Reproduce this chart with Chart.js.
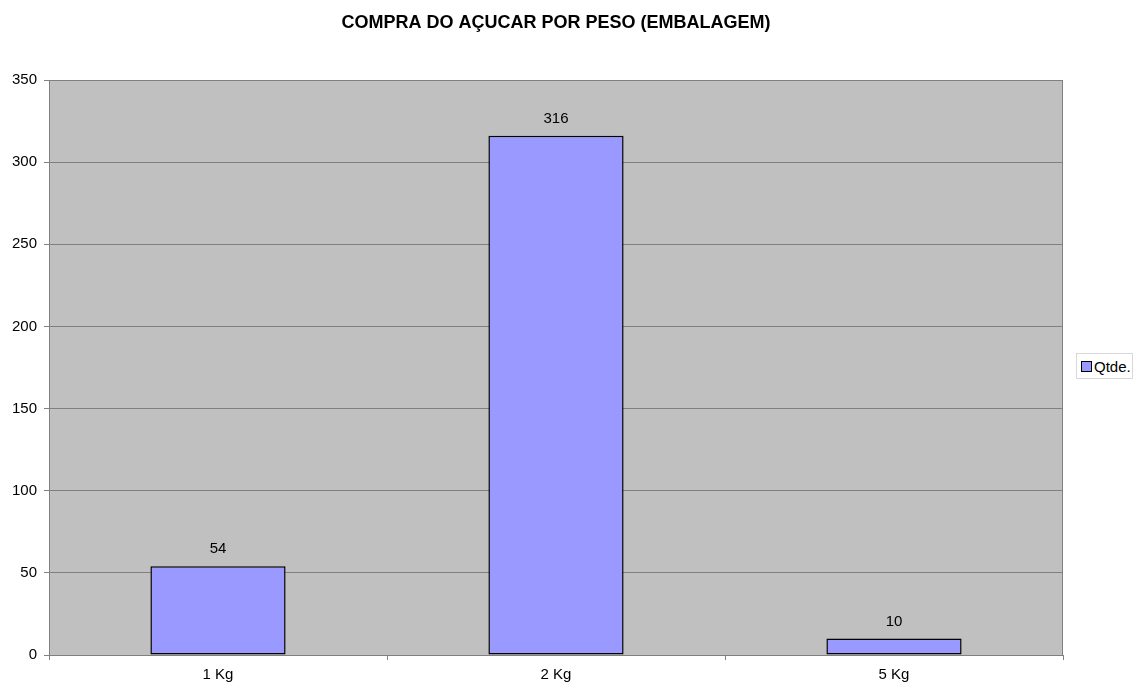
<!DOCTYPE html>
<html>
<head>
<meta charset="utf-8">
<script src="https://cdn.jsdelivr.net/npm/chart.js@4/dist/chart.umd.min.js"></script>
<style>
  html, body { margin: 0; padding: 0; background: #fff; }
  #wrap { position: relative; width: 1142px; height: 689px; }
  #legend {
    position: absolute; left: 1076px; top: 353px; width: 57px; height: 26px;
    border: 1px solid #d8d8d8; background: #fff; box-sizing: border-box;
    font: 15px "Liberation Sans", Arial, sans-serif; color: #000;
    display: flex; align-items: center; padding-left: 4px;
  }
  #legend .sw {
    flex: 0 0 auto; width: 11px; height: 11px; box-sizing: border-box;
    background: #9999FF; border: 1.5px solid #000; margin-right: 2px;
  }
</style>
</head>
<body>
<div id="wrap">
  <canvas id="chart" width="1142" height="689"></canvas>
  <div id="legend"><span class="sw"></span><span>Qtde.</span></div>
</div>
<script>
const categories = ["1 Kg", "2 Kg", "5 Kg"];
const qtde = [54, 316, 10];
const seriesName = "Qtde.";
const chartTitle = "COMPRA DO AÇUCAR POR PESO (EMBALAGEM)";

const FONT = '"Liberation Sans", Arial, sans-serif';

const plotBackground = {
  id: "plotBackground",
  beforeDraw(chart) {
    const { ctx, chartArea: a } = chart;
    ctx.save();
    ctx.fillStyle = "#C0C0C0";
    ctx.fillRect(a.left, a.top, a.right - a.left, a.bottom - a.top);
    ctx.restore();
  },
  afterDatasetsDraw(chart) {
    const { ctx, chartArea: a } = chart;
    ctx.save();
    ctx.strokeStyle = "#808080";
    ctx.lineWidth = 1;
    ctx.strokeRect(a.left + 0.5, a.top + 0.5, a.right - a.left - 1, a.bottom - a.top);
    ctx.restore();
  },
};

// title drawn by hand so it can sit where the original has it (centre x ~556)
const titleText = {
  id: "titleText",
  afterDraw(chart) {
    const { ctx } = chart;
    ctx.save();
    ctx.fillStyle = "#000";
    ctx.font = "bold 18px " + FONT;
    ctx.textAlign = "center";
    ctx.textBaseline = "middle";
    ctx.fillText(chartTitle, 556, 23);
    ctx.restore();
  },
};

const valueLabels = {
  id: "valueLabels",
  afterDatasetsDraw(chart) {
    const { ctx } = chart;
    const meta = chart.getDatasetMeta(0);
    ctx.save();
    ctx.fillStyle = "#000";
    ctx.font = "15px " + FONT;
    ctx.textAlign = "center";
    ctx.textBaseline = "middle";
    meta.data.forEach((bar, i) => {
      ctx.fillText(String(qtde[i]), bar.x, bar.y - 17);
    });
    ctx.restore();
  },
};

new Chart(document.getElementById("chart"), {
  type: "bar",
  data: {
    labels: categories,
    datasets: [{
      label: seriesName,
      data: qtde,
      backgroundColor: "#9999FF",
      borderColor: "#000000",
      borderWidth: 1.5,
      borderSkipped: false,
      barPercentage: 0.4,
      categoryPercentage: 1,
    }],
  },
  options: {
    responsive: false,
    animation: false,
    layout: { padding: { top: 80, right: 79, bottom: 0, left: 0 } },
    plugins: {
      legend: { display: false },
      tooltip: { enabled: false },
      title: { display: false },
    },
    scales: {
      x: {
        afterFit(s) { s.height = 34; },
        grid: { offset: true, drawOnChartArea: false, drawTicks: true, tickLength: 5, color: "#808080" },
        border: { color: "#808080" },
        ticks: { color: "#000", font: { family: FONT, size: 15 }, padding: 6 },
      },
      y: {
        min: 0,
        max: 350,
        afterFit(s) { s.width = 49; },
        grid: { color: "#808080", tickLength: 5 },
        border: { color: "#808080" },
        ticks: { stepSize: 50, color: "#000", font: { family: FONT, size: 15 }, padding: 7 },
      },
    },
  },
  plugins: [plotBackground, titleText, valueLabels],
});
</script>
</body>
</html>
